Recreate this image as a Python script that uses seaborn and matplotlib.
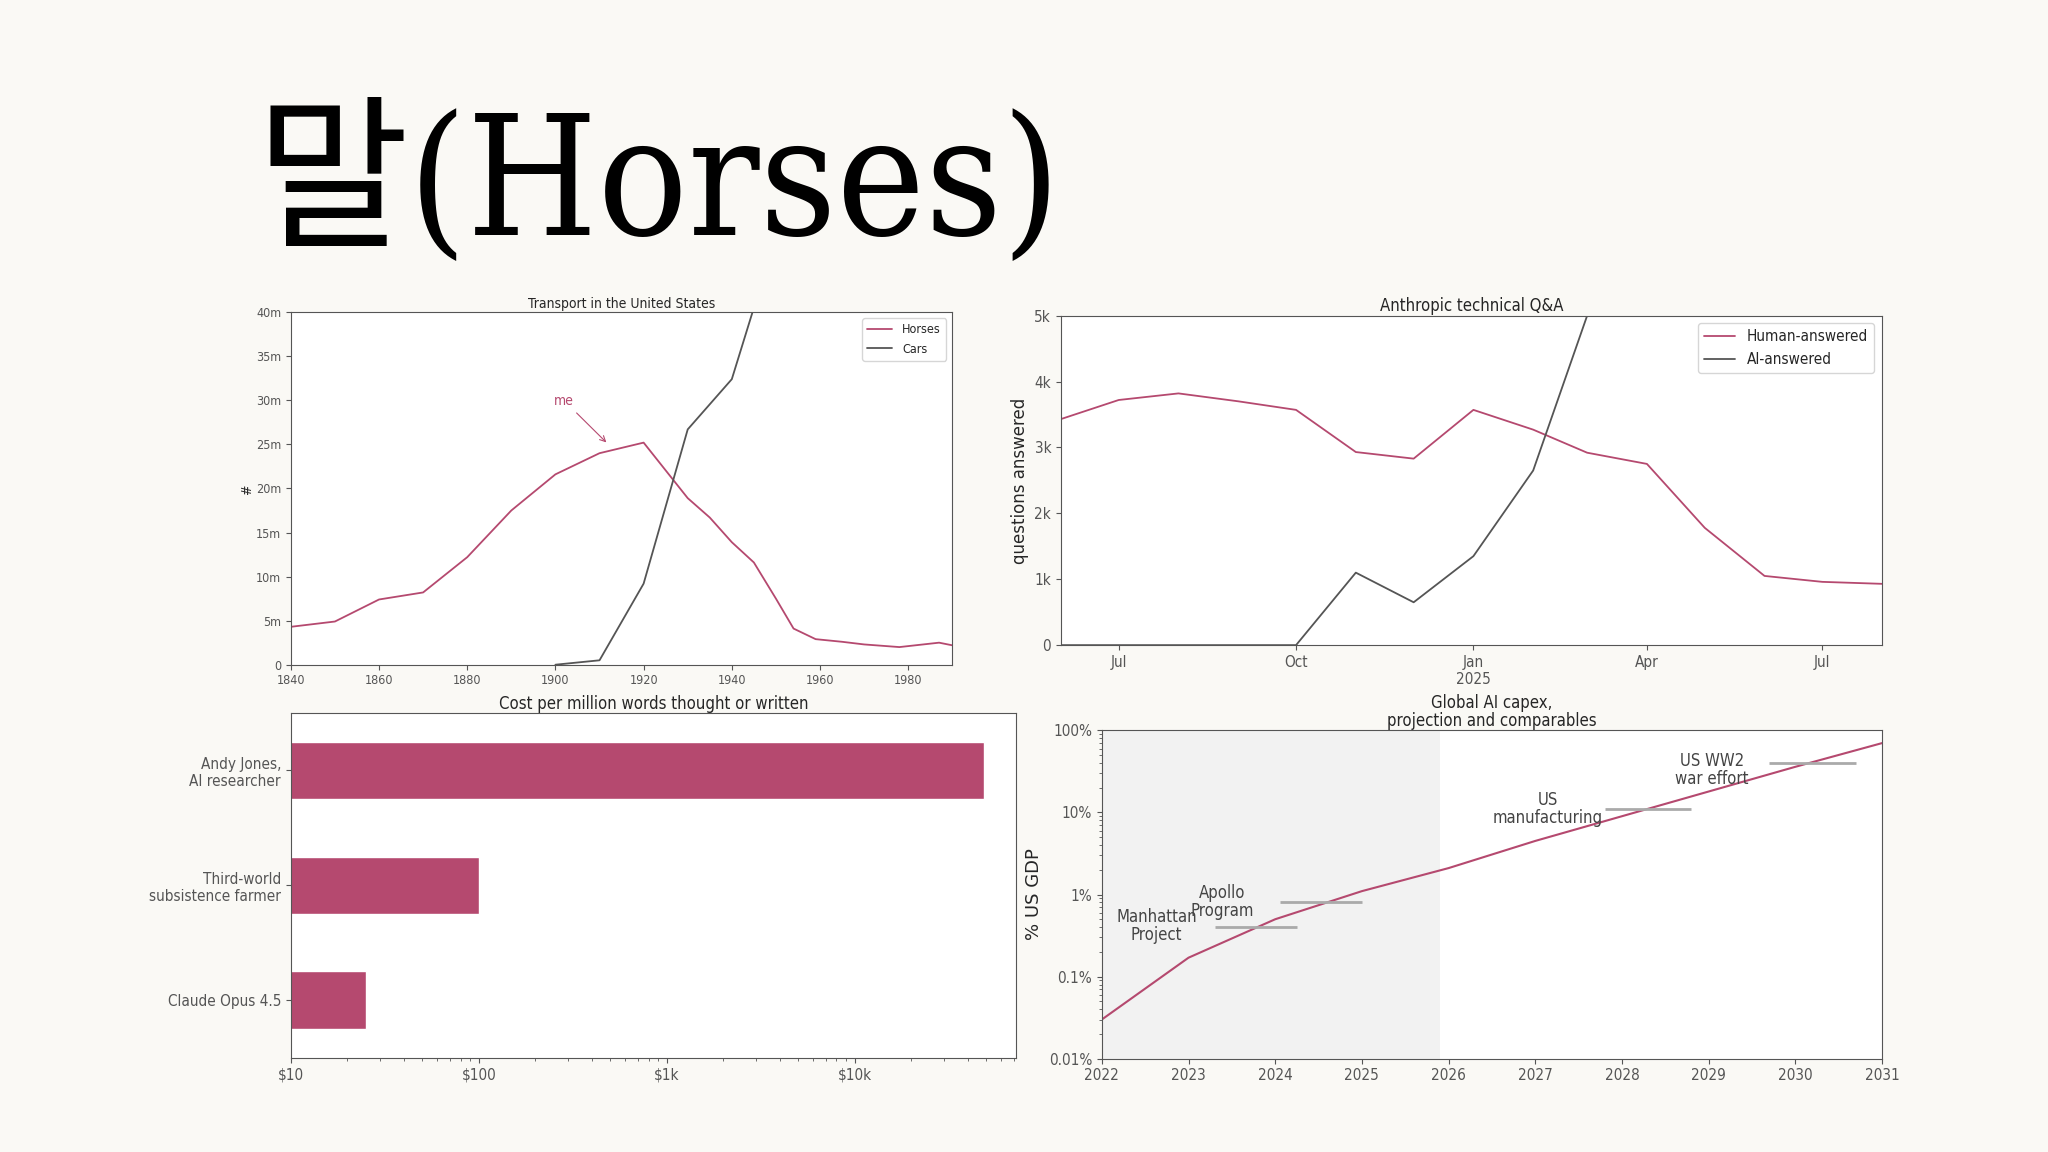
import numpy as np
import pandas as pd
import seaborn as sns
import matplotlib.pyplot as plt
import matplotlib.ticker as mticker
import matplotlib.dates as mdates

# transport in the US (millions)
horse_years = [1840, 1850, 1860, 1870, 1880, 1890, 1900, 1910, 1920, 1930, 1935, 1940,
               1945, 1950, 1954, 1959, 1965, 1970, 1978, 1987, 1990]
horses = [4.3, 4.9, 7.4, 8.2, 12.2, 17.5, 21.6, 24.0, 25.2, 18.9, 16.7, 13.9,
          11.6, 7.5, 4.1, 2.9, 2.6, 2.3, 2.0, 2.5, 2.2]
car_years = [1900, 1910, 1920, 1930, 1940, 1945, 1950]
cars = [0.0, 0.5, 9.2, 26.7, 32.4, 40.5, 49.0]

# technical Q&A per month
qa_months = pd.date_range('2024-06-01', '2025-08-01', freq='MS')
human_answered = [3430, 3720, 3820, 3700, 3570, 2930, 2830, 3570, 3270, 2920, 2750, 1780, 1050, 960, 930]
ai_months = pd.date_range('2024-06-01', '2025-04-01', freq='MS')
ai_answered = [0, 0, 0, 0, 0, 1100, 650, 1350, 2650, 5000, 7500]

# cost per million words
cost_labels = ['Andy Jones,\nAI researcher', 'Third-world\nsubsistence farmer', 'Claude Opus 4.5']
cost_values = [49000, 100, 25]

# AI capex as % of US GDP
capex_years = [2022, 2023, 2024, 2025, 2026, 2027, 2028, 2029, 2030, 2031]
capex_pct = [0.03, 0.17, 0.5, 1.1, 2.1, 4.5, 9.0, 18.0, 36.0, 70.0]
comp_labels = ['Manhattan\nProject', 'Apollo\nProgram', 'US\nmanufacturing', 'US WW2\nwar effort']
comp_pct = [0.4, 0.8, 11.0, 40.0]
comp_start = [2023.3, 2024.05, 2027.8, 2029.7]
comp_end = [2024.25, 2025.0, 2028.8, 2030.7]
comp_label_x = [2022.63, 2023.39, 2027.14, 2029.04]
comp_label_y = [0.41, 0.81, 11.0, 33.0]

RED = '#b5496f'
GREY = '#555555'
BG = '#faf9f5'

sns.set_style('ticks')
plt.rcParams['font.family'] = ['DejaVu Sans']
plt.rcParams['font.stretch'] = 'condensed'
plt.rcParams['axes.edgecolor'] = '#555555'
plt.rcParams['xtick.color'] = '#555555'
plt.rcParams['ytick.color'] = '#555555'
plt.rcParams['xtick.labelcolor'] = '#555555'
plt.rcParams['ytick.labelcolor'] = '#555555'

fig = plt.figure(figsize=(20.48, 11.52), dpi=100, facecolor=BG)
fig.text(0.125, 0.796, '말(Horses)', fontsize=120, color='black',
         family=['DejaVu Serif', 'Noto Sans CJK KR'], va='baseline')

# --- transport
ax1 = fig.add_axes([0.142, 0.423, 0.323, 0.306])
sns.lineplot(x=horse_years, y=horses, ax=ax1, color=RED, lw=1.3, label='Horses')
sns.lineplot(x=car_years, y=cars, ax=ax1, color=GREY, lw=1.3, label='Cars')
ax1.set_xlim(1840, 1990)
ax1.set_ylim(0, 40)
ax1.yaxis.set_major_locator(mticker.MultipleLocator(5))
ax1.yaxis.set_major_formatter(mticker.FuncFormatter(lambda v, p: '0' if v == 0 else f'{v:.0f}m'))
ax1.xaxis.set_major_locator(mticker.MultipleLocator(20))
ax1.tick_params(labelsize=9)
ax1.set_ylabel('#', fontsize=10, labelpad=1)
ax1.set_title('Transport in the United States', fontsize=10, pad=3)
ax1.annotate('me', xy=(1912, 25), xytext=(1902, 29.5), color=RED, fontsize=10,
             ha='center', arrowprops=dict(arrowstyle='->', color=RED, lw=0.8))
ax1.legend(loc='upper right', fontsize=9)

# --- technical Q&A
ax2 = fig.add_axes([0.518, 0.440, 0.401, 0.286])
sns.lineplot(x=qa_months, y=human_answered, ax=ax2, color=RED, lw=1.3, label='Human-answered')
sns.lineplot(x=ai_months, y=ai_answered, ax=ax2, color=GREY, lw=1.3, label='AI-answered')
ax2.set_xlim(qa_months[0], qa_months[-1])
ax2.set_ylim(0, 5000)
ax2.yaxis.set_major_locator(mticker.MultipleLocator(1000))
ax2.yaxis.set_major_formatter(mticker.FuncFormatter(lambda v, p: '0' if v == 0 else f'{v/1000:.0f}k'))
ax2.xaxis.set_major_locator(mdates.MonthLocator(bymonth=[1, 4, 7, 10]))
ax2.xaxis.set_major_formatter(mticker.FuncFormatter(
    lambda v, p: mdates.num2date(v).strftime('%b\n%Y') if mdates.num2date(v).month == 1
    else mdates.num2date(v).strftime('%b')))
ax2.set_xlabel('')
ax2.tick_params(labelsize=11)
ax2.set_ylabel('questions answered', fontsize=12, stretch='normal')
ax2.set_title('Anthropic technical Q&A', fontsize=12, pad=3)
ax2.legend(loc='upper right', fontsize=11)

# --- cost per million words
ax3 = fig.add_axes([0.142, 0.082, 0.354, 0.299])
sns.barplot(x=cost_values, y=cost_labels, ax=ax3, color=RED, saturation=1, width=0.5, orient='h')
ax3.set_xscale('log')
ax3.set_xlim(10, 72000)
ax3.xaxis.set_major_formatter(mticker.FuncFormatter(
    lambda v, p: {10: '$10', 100: '$100', 1000: '$1k', 10000: '$10k'}.get(int(round(v)), '')))
ax3.tick_params(labelsize=11)
ax3.set_title('Cost per million words thought or written', fontsize=12, pad=3)

# --- capex
ax4 = fig.add_axes([0.538, 0.081, 0.381, 0.285])
ax4.axvspan(2022, 2025.9, color='#f2f2f2', lw=0)
sns.lineplot(x=capex_years, y=capex_pct, ax=ax4, color=RED, lw=1.5)
for lab, v, s, e, lx, ly in zip(comp_labels, comp_pct, comp_start, comp_end, comp_label_x, comp_label_y):
    ax4.hlines(v, s, e, color='#aaaaaa', lw=2)
    ax4.text(lx, ly, lab, ha='center', va='center', fontsize=12, color='#444444', linespacing=1.0)
ax4.set_yscale('log')
ax4.set_ylim(0.01, 100)
ax4.set_xlim(2022, 2031)
ax4.xaxis.set_major_locator(mticker.MultipleLocator(1))
ax4.yaxis.set_major_formatter(mticker.FuncFormatter(
    lambda v, p: {0.01: '0.01%', 0.1: '0.1%', 1: '1%', 10: '10%', 100: '100%'}.get(round(v, 2), '')))
ax4.tick_params(labelsize=11)
ax4.set_ylabel('% US GDP', fontsize=13, stretch='normal')
ax4.set_title('Global AI capex,\nprojection and comparables', fontsize=12, pad=3, linespacing=1.0)

fig.savefig('out.png', dpi=100, facecolor=BG)
